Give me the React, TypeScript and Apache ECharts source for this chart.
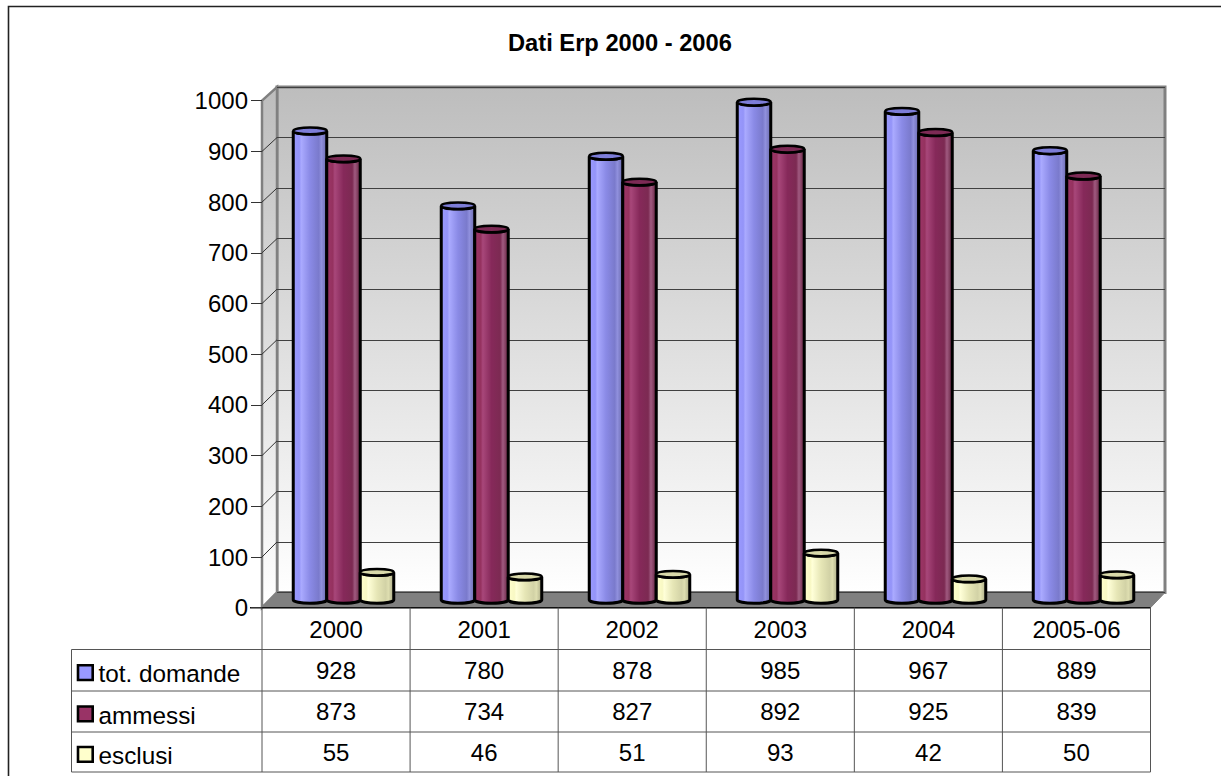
import React, { useEffect, useRef } from "react";
import * as echarts from "echarts";

const TITLE = "Dati Erp 2000 - 2006";
const categories = ["2000", "2001", "2002", "2003", "2004", "2005-06"];
const seriesNames = ["tot. domande", "ammessi", "esclusi"];
const totDomande = [928, 780, 878, 985, 967, 889];
const ammessi = [873, 734, 827, 892, 925, 839];
const esclusi = [55, 46, 51, 93, 42, 50];
const yTicks = [0, 100, 200, 300, 400, 500, 600, 700, 800, 900, 1000];

const FONT = "Liberation Sans";
const FRONT = { left: 262, right: 1150.5, top: 100.7, bottom: 607.7 };
const BACK = { left: 277, right: 1165, top: 87, bottom: 592.5 };
const BAR_W = 33.5;
const RX = BAR_W / 2;
const RY = 3.3;
const DEPTH_X = -7.5;
const DEPTH_Y = 7.5;
const ROWS = [649.5, 691, 732, 772];
const TABLE_LEFT = 71.5;
const LINE = "#555555";

const palette = [
  {
    fill: "#9999ff",
    top: "#7d7dd8",
    stops: ["#9a9aff", "#9494f8", "#aaaaff", "#8a8ae6", "#7a7acc", "#9090dd", "#6a6aae"],
  },
  {
    fill: "#993366",
    top: "#7d2a55",
    stops: ["#9c3568", "#95325f", "#a8477a", "#86295a", "#7c2a52", "#a05a80", "#63223f"],
  },
  {
    fill: "#ffffcc",
    top: "#d9d9aa",
    stops: ["#ffffcc", "#f8f8c4", "#ffffd8", "#e6e6b6", "#d2d2a6", "#deDEb0", "#aaaa86"],
  },
];
const stopAt = [0, 0.18, 0.24, 0.5, 0.76, 0.84, 1];

const cylinder = (seriesIndex: number) => (_p: any, api: any) => {
  const cat = api.value(0);
  const val = api.value(1);
  const [cx0, yTop0] = api.coord([cat, val]);
  const [, yBase0] = api.coord([cat, 0]);
  const cx = cx0 + DEPTH_X + (seriesIndex - 1) * BAR_W;
  const yTop = yTop0 + DEPTH_Y;
  const yBase = yBase0 + DEPTH_Y;
  const x0 = cx - RX;
  const x1 = cx + RX;
  const p = palette[seriesIndex];
  const d = `M${x0} ${yTop}L${x0} ${yBase}A${RX} ${RY} 0 0 0 ${x1} ${yBase}L${x1} ${yTop}A${RX} ${RY} 0 0 1 ${x0} ${yTop}Z`;
  return {
    type: "group",
    children: [
      {
        type: "path",
        shape: { pathData: d },
        style: {
          fill: new echarts.graphic.LinearGradient(
            0,
            0,
            1,
            0,
            p.stops.map((color, i) => ({ offset: stopAt[i], color })),
          ),
          stroke: "#000000",
          lineWidth: 3,
        },
      },
      {
        type: "ellipse",
        shape: { cx, cy: yTop, rx: RX, ry: RY },
        style: { fill: p.top, stroke: "#000000", lineWidth: 2.5 },
      },
    ],
  };
};

const buildGraphic = () => {
  const els: any[] = [];
  const wallGrad = (): any =>
    new echarts.graphic.LinearGradient(0, 0, 0, 1, [
      { offset: 0, color: "#bdbdbd" },
      { offset: 1, color: "#ffffff" },
    ]);
  // page frame
  els.push({
    type: "polyline",
    z: -3,
    shape: { points: [[8.5, 776], [8.5, 6.5], [1221, 6.5]] },
    style: { fill: "none", stroke: "#222222", lineWidth: 1.6 },
  });
  // walls
  els.push({
    type: "polygon",
    z: -2,
    shape: { points: [[BACK.left, BACK.top], [BACK.right, BACK.top], [BACK.right, BACK.bottom], [BACK.left, BACK.bottom]] },
    style: { fill: wallGrad(), stroke: "#808080", lineWidth: 3 },
  });
  els.push({
    type: "polygon",
    z: -2,
    shape: { points: [[FRONT.left, FRONT.top], [BACK.left, BACK.top], [BACK.left, BACK.bottom], [FRONT.left, FRONT.bottom]] },
    style: { fill: wallGrad(), stroke: "#808080", lineWidth: 2.5 },
  });
  els.push({
    type: "polygon",
    z: -1,
    shape: { points: [[FRONT.left, FRONT.bottom], [BACK.left, BACK.bottom], [BACK.right, BACK.bottom], [FRONT.right, FRONT.bottom]] },
    style: { fill: "#808080", stroke: "#808080", lineWidth: 1 },
  });
  els.push({
    type: "line",
    z: 0,
    shape: { x1: FRONT.left - 12, y1: FRONT.bottom, x2: FRONT.right, y2: FRONT.bottom },
    style: { stroke: "#111111", lineWidth: 1.5 },
  });
  // diagonals on the side wall
  yTicks.slice(1, -1).forEach((_t, i) => {
    const f = (i + 1) / (yTicks.length - 1);
    els.push({
      type: "line",
      z: -1,
      shape: {
        x1: FRONT.left,
        y1: FRONT.bottom - f * (FRONT.bottom - FRONT.top),
        x2: BACK.left,
        y2: BACK.bottom - f * (BACK.bottom - BACK.top),
      },
      style: { stroke: "#333333", lineWidth: 1 },
    });
  });
  // table lines
  const colW = (FRONT.right - FRONT.left) / categories.length;
  ROWS.forEach((y) =>
    els.push({
      type: "line",
      shape: { x1: TABLE_LEFT, y1: y, x2: FRONT.right, y2: y },
      style: { stroke: LINE, lineWidth: 1 },
    }),
  );
  els.push({
    type: "line",
    shape: { x1: TABLE_LEFT, y1: ROWS[0], x2: TABLE_LEFT, y2: ROWS[3] },
    style: { stroke: LINE, lineWidth: 1 },
  });
  categories.concat("").forEach((_c, i) =>
    els.push({
      type: "line",
      shape: { x1: FRONT.left + i * colW, y1: FRONT.bottom, x2: FRONT.left + i * colW, y2: ROWS[3] },
      style: { stroke: LINE, lineWidth: 1 },
    }),
  );
  // table contents
  [totDomande, ammessi, esclusi].forEach((vals, r) => {
    const cy = (ROWS[r] + ROWS[r + 1]) / 2;
    els.push({
      type: "rect",
      shape: { x: 78, y: cy + 2.4 - 7.35, width: 14.7, height: 14.7 },
      style: { fill: palette[r].fill, stroke: "#000000", lineWidth: 2.6 },
    });
    els.push({
      type: "text",
      x: 98.5,
      y: cy + 3.5,
      style: {
        text: seriesNames[r],
        fontFamily: FONT,
        fontSize: 24.3,
        fill: "#000000",
        align: "left",
        verticalAlign: "middle",
      },
    });
    vals.forEach((v, i) =>
      els.push({
        type: "text",
        x: FRONT.left + (i + 0.5) * colW,
        y: cy,
        style: {
          text: String(v),
          fontFamily: FONT,
          fontSize: 24,
          fill: "#000000",
          align: "center",
          verticalAlign: "middle",
        },
      }),
    );
  });
  return els;
};

export default function App() {
  const ref = useRef<HTMLDivElement>(null);
  useEffect(() => {
    const chart = echarts.init(ref.current!, undefined, { renderer: "svg" });
    const gridFront = {
      left: FRONT.left,
      top: FRONT.top,
      width: FRONT.right - FRONT.left,
      height: FRONT.bottom - FRONT.top,
    };
    const gridBack = {
      left: BACK.left,
      top: BACK.top,
      width: BACK.right - BACK.left,
      height: BACK.bottom - BACK.top,
    };
    chart.setOption({
      animation: false,
      backgroundColor: "#ffffff",
      textStyle: { fontFamily: FONT },
      title: {
        text: TITLE,
        left: 503,
        top: 26,
        textStyle: { fontFamily: FONT, fontSize: 23.7, fontWeight: "bold", color: "#000000" },
      },
      grid: [gridFront, gridBack],
      xAxis: [
        {
          type: "category",
          gridIndex: 0,
          data: categories,
          axisLine: { show: false },
          axisTick: { show: false },
          axisLabel: { color: "#000000", fontSize: 24, fontFamily: FONT, margin: 10, interval: 0 },
        },
        { type: "category", gridIndex: 1, data: categories, show: false },
      ],
      yAxis: [
        {
          type: "value",
          gridIndex: 0,
          min: 0,
          max: 1000,
          interval: 100,
          splitLine: { show: false },
          axisLine: { show: false },
          axisTick: { show: true, length: 11, lineStyle: { color: "#333333", width: 1 } },
          axisLabel: {
            color: "#000000",
            fontSize: 24,
            fontFamily: FONT,
            margin: 14,
            formatter: (v: number) => String(v),
          },
        },
        {
          type: "value",
          gridIndex: 1,
          min: 0,
          max: 1000,
          interval: 100,
          axisLine: { show: false },
          axisTick: { show: false },
          axisLabel: { show: false },
          splitLine: { show: true, lineStyle: { color: "#404040", width: 1 } },
        },
      ],
      series: [totDomande, ammessi, esclusi].map((vals, s) => ({
        type: "custom",
        name: seriesNames[s],
        xAxisIndex: 1,
        yAxisIndex: 1,
        clip: false,
        z: 3,
        encode: { x: 0, y: 1 },
        data: vals.map((v, i) => [i, v]),
        renderItem: cylinder(s),
      })),
      graphic: { elements: buildGraphic() },
    });
    return () => chart.dispose();
  }, []);
  return <div ref={ref} style={{ position: "fixed", left: 0, top: 0, width: 1221, height: 776 }} />;
}
